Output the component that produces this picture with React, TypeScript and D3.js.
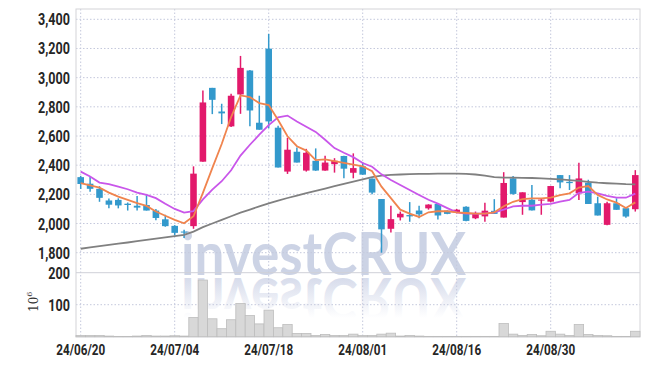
import React from 'react';
import * as d3 from 'd3';

const dates = [
  '24/06/20','24/06/21','24/06/24','24/06/25','24/06/26','24/06/27','24/06/28',
  '24/07/01','24/07/02','24/07/03','24/07/04','24/07/05','24/07/08','24/07/09','24/07/10','24/07/11','24/07/12',
  '24/07/15','24/07/16','24/07/17','24/07/18','24/07/19','24/07/22','24/07/23','24/07/24','24/07/25','24/07/26',
  '24/07/29','24/07/30','24/07/31','24/08/01','24/08/02','24/08/05','24/08/06','24/08/07','24/08/08','24/08/09',
  '24/08/12','24/08/13','24/08/14','24/08/16','24/08/19','24/08/20','24/08/21','24/08/22','24/08/23',
  '24/08/26','24/08/27','24/08/28','24/08/29','24/08/30','24/09/02','24/09/03','24/09/04','24/09/05','24/09/06',
  '24/09/09','24/09/10','24/09/11','24/09/12'
];

const openP = [2318,2273,2238,2158,2162,2136,2122,2127,2089,2029,1984,1945,1982,2424,2930,2768,2666,2885,3049,2691,
  3199,2657,2356,2492,2363,2430,2363,2407,2463,2348,2392,2308,2168,1964,2042,2058,2089,2104,2134,2088,
  2077,2115,2036,2049,2087,2041,2310,2147,2163,2158,2150,2332,2286,2207,2280,2139,1991,2139,2105,2098];
const highP = [2327,2322,2256,2171,2173,2144,2189,2198,2100,2060,1989,1957,2392,2912,2930,2821,2889,3149,3053,2876,
  3300,2671,2588,2522,2512,2515,2464,2448,2465,2481,2420,2309,2168,2121,2082,2147,2121,2132,2137,2090,
  2100,2118,2082,2142,2167,2352,2325,2214,2264,2168,2258,2332,2332,2416,2300,2184,2150,2173,2105,2366];
const lowP = [2237,2218,2149,2104,2104,2089,2089,2089,2022,1978,1918,1900,1964,2424,2750,2682,2661,2752,2666,2643,
  2653,2384,2340,2418,2356,2361,2361,2349,2310,2310,2334,2200,1800,1939,2021,2012,2037,2095,2027,2064,
  2070,2016,2030,2012,2066,2041,2197,2060,2090,2060,2146,2241,2230,2162,2134,2055,1988,2094,2040,2082];
const closeP = [2271,2238,2176,2129,2124,2127,2109,2089,2038,1982,1936,1938,2342,2830,2848,2755,2876,3067,2775,2643,
  2700,2384,2506,2418,2485,2363,2418,2430,2376,2380,2335,2212,1960,2030,2067,2049,2063,2130,2055,2066,
  2095,2018,2070,2088,2066,2278,2203,2214,2090,2164,2257,2282,2277,2309,2134,2055,2139,2094,2048,2332];

const ma5 = [2277,2262,2246,2212,2185,2162,2140,2121,2082,2053,2025,2002,2050,2210,2380,2545,2730,2878,2866,2826,
  2812,2710,2598,2530,2500,2435,2440,2427,2415,2403,2392,2358,2253,2174,2095,2068,2045,2077,2084,2084,
  2077,2072,2068,2068,2077,2118,2149,2167,2172,2172,2177,2194,2207,2247,2257,2196,2165,2143,2106,2145];
const ma10 = [2356,2322,2281,2270,2253,2235,2212,2196,2174,2135,2100,2075,2085,2165,2232,2290,2365,2466,2540,2609,
  2675,2728,2740,2700,2664,2628,2574,2517,2485,2455,2415,2389,2337,2298,2264,2230,2196,2163,2136,2106,
  2077,2068,2068,2068,2077,2095,2118,2122,2122,2129,2134,2150,2162,2210,2218,2207,2190,2177,2177,2205];
const maLong = [1827,1836,1845,1853,1862,1870,1879,1888,1896,1905,1913,1922,1945,1975,2000,2025,2050,2075,2096,2118,
  2138,2157,2175,2192,2208,2224,2240,2256,2272,2287,2302,2318,2328,2333,2336,2338,2340,2341,2342,2342,
  2342,2340,2336,2328,2318,2315,2314,2313,2312,2310,2306,2303,2298,2292,2286,2280,2276,2273,2270,2269];

const volume = [4,4,4,2,1,1,2,4,2,2,3,2,60,177,56,25,53,104,66,40,
  83,28,38,10,10,4,7,4,4,8,4,4,8,11,2,4,2,1,1,1,
  1,1,1,1,1,41,8,4,7,3,17,8,4,38,7,4,3,1,1,17];

const priceTicks = [1800,2000,2200,2400,2600,2800,3000,3200,3400];
const volumeTicks = [100,200];
const tickDates = ['24/06/20','24/07/04','24/07/18','24/08/01','24/08/16','24/08/30'];

const UP = '#e2196b';
const DOWN = '#3399cc';

function Label({ x, y, text, anchor, sx, size }: any) {
  return (
    <g transform={`translate(${x},${y}) scale(${sx},1)`}>
      <text textAnchor={anchor} fontFamily="Roboto" fontWeight={700} fontSize={size} fill="#262626">{text}</text>
    </g>
  );
}

export default function App() {
  const W = 650, H = 366;
  const L = 76, R = 640, T = 9, VB = 337;
  const x = d3.scaleBand<string>().domain(dates).range([L, R]).padding(0);
  const bw = x.bandwidth();
  const cx = (i: number) => (x(dates[i]) as number) + bw / 2;
  const y = d3.scaleLinear().domain([1800, 3400]).range([252.7, 19.3]);
  const yv = d3.scaleLinear().domain([0, 200]).range([336.7, 272.7]);
  const line = d3.line<number>().x((_, i) => cx(i)).y(d => y(d));
  const cw = bw * 0.7;

  return (
    <svg width={W} height={H} style={{ position: 'absolute', left: 0, top: 0 }} xmlns="http://www.w3.org/2000/svg">
      <defs>
        <linearGradient id="refl" gradientUnits="userSpaceOnUse" x1="0" y1="275" x2="0" y2="235">
          <stop offset="0" stopColor="#cdd3e6" stopOpacity={0.8} />
          <stop offset="1" stopColor="#cdd3e6" stopOpacity={0} />
        </linearGradient>
      </defs>
      <rect x={0} y={0} width={W} height={H} fill="#fff" />
      {/* watermark */}
      <text x={181} y={275} textLength={285} lengthAdjust="spacingAndGlyphs" fontFamily="Lato" fontWeight={700} fontSize={60} fill="#c3cbe0" fillOpacity={0.85}>investCRUX</text>
      <g transform="translate(0,553) scale(1,-1)">
        <text x={181} y={275} textLength={285} lengthAdjust="spacingAndGlyphs" fontFamily="Lato" fontWeight={700} fontSize={60} fill="url(#refl)">investCRUX</text>
      </g>
      {/* grid */}
      {priceTicks.map(p => (
        <line key={'h' + p} x1={L} x2={R} y1={y(p)} y2={y(p)} stroke="#c4c8dc" strokeDasharray="1.5,2" />
      ))}
      {volumeTicks.slice(0, 1).map(v => (
        <line key={'v' + v} x1={L} x2={R} y1={yv(v)} y2={yv(v)} stroke="#c4c8dc" strokeDasharray="1.5,2" />
      ))}
      {tickDates.map(d => (
        <line key={'g' + d} x1={(x(d) as number) + bw / 2} x2={(x(d) as number) + bw / 2} y1={T} y2={VB} stroke="#c4c8dc" strokeDasharray="1.5,2" />
      ))}
      {/* panel borders */}
      <rect x={L} y={T} width={R - L} height={VB - T} fill="none" stroke="#d4d4d8" strokeWidth={1} />
      <line x1={L} x2={R} y1={yv(200)} y2={yv(200)} stroke="#cfd0d8" strokeWidth={1} />
      {/* volume */}
      {volume.map((v, i) => (
        <rect key={'vb' + i} x={x(dates[i]) as number} y={yv(v)} width={bw} height={yv(0) - yv(v)} fill="#d8d8d8" stroke="#bdbdbd" strokeWidth={0.8} />
      ))}
      {/* candles */}
      {dates.map((d, i) => {
        const o = openP[i], c = closeP[i];
        const col = c >= o ? UP : DOWN;
        const top = y(Math.max(o, c));
        const h = Math.max(1, Math.abs(y(o) - y(c)));
        return (
          <g key={'c' + i}>
            <line x1={cx(i)} x2={cx(i)} y1={y(highP[i])} y2={y(lowP[i])} stroke={col} strokeWidth={1.5} />
            <rect x={cx(i) - cw / 2} y={top} width={cw} height={h} fill={col} />
          </g>
        );
      })}
      {/* moving averages */}
      <path d={line(maLong) || ''} fill="none" stroke="#808080" strokeWidth={1.8} />
      <path d={line(ma10) || ''} fill="none" stroke="#c956ea" strokeWidth={1.8} />
      <path d={line(ma5) || ''} fill="none" stroke="#f0844e" strokeWidth={1.8} />
      {/* y labels */}
      {priceTicks.map(p => (
        <Label key={'yl' + p} x={70} y={y(p) + 6} text={d3.format(',')(p)} anchor="end" sx={0.74} size={17} />
      ))}
      {volumeTicks.map(v => (
        <Label key={'vl' + v} x={70} y={yv(v) + 6} text={String(v)} anchor="end" sx={0.74} size={17} />
      ))}
      <g transform="translate(38,312) rotate(-90)">
        <text fontFamily="DejaVu Serif" fontSize={12} fill="#333">10<tspan dy={-6} fontSize={8}>6</tspan></text>
      </g>
      {/* x labels */}
      {tickDates.map(d => (
        <Label key={'xl' + d} x={(x(d) as number) + bw / 2} y={355} text={d} anchor="middle" sx={0.78} size={15} />
      ))}
    </svg>
  );
}
